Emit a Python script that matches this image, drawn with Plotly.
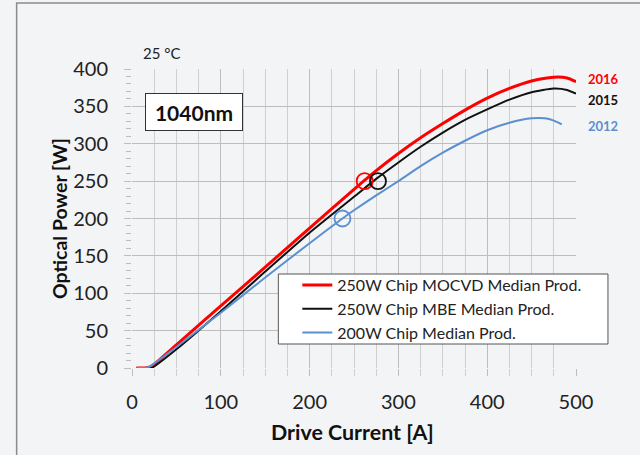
import plotly.graph_objects as go

# ---- data ----
current_mocvd = [5, 15, 20, 25, 50, 100, 150, 200, 250, 275, 300, 325, 350, 375, 400, 425, 450, 475, 490, 500]
power_mocvd   = [0, 0, 1, 5, 31, 83, 135, 187, 239, 264, 287, 308, 327, 345, 361, 374, 384, 389, 388, 383]

current_mbe = [5, 15, 22, 25, 50, 100, 150, 200, 250, 275, 300, 325, 350, 375, 400, 425, 450, 475, 490, 500]
power_mbe   = [0, 0, 0, 2, 25, 76, 129, 181, 229, 253, 275, 296, 315, 332, 346, 359, 369, 374, 372, 367]

current_200w = [5, 15, 20, 25, 50, 100, 150, 200, 237, 250, 275, 300, 325, 350, 375, 400, 425, 450, 465, 475, 484]
power_200w   = [0, 0, 2, 6, 28, 74, 121, 167, 200, 211, 231, 250, 270, 288, 304, 318, 328, 334, 334, 331, 326]

series_names = ["250W Chip MOCVD Median Prod.", "250W Chip MBE Median Prod.", "200W Chip Median Prod."]
series_colors = ["#ff0000", "#111111", "#5b8fd0"]
series_widths = [3, 2, 2]

marker_x = [262, 277, 237]
marker_y = [250, 250, 200]

year_labels = ["2016", "2015", "2012"]
year_label_y = [386, 358, 324]

x_ticks = [0, 100, 200, 300, 400, 500]
y_ticks = [0, 50, 100, 150, 200, 250, 300, 350, 400]

FONT = "Lato"

fig = go.Figure()
for xs, ys, name, col, w in zip([current_mocvd, current_mbe, current_200w],
                                [power_mocvd, power_mbe, power_200w],
                                series_names, series_colors, series_widths):
    fig.add_trace(go.Scatter(x=xs, y=ys, mode="lines", name=name,
                             line=dict(color=col, width=w, shape="spline", smoothing=0.6)))

for mx, my, col in zip(marker_x, marker_y, series_colors):
    fig.add_trace(go.Scatter(x=[mx], y=[my], mode="markers", showlegend=False,
                             marker=dict(symbol="circle-open", size=16, color=col,
                                         line=dict(width=1.8, color=col))))

W, H = 640, 455
L, R, T, B = 131.5, 64, 69, 87
pw, ph = W - L - R, H - T - B

def px_to_paper_x(px):
    return (px - L) / pw

def px_to_paper_y(py):
    return (H - B - py) / ph

annotations = []
for lab, yy, col in zip(year_labels, year_label_y, series_colors):
    annotations.append(dict(text="<b>%s</b>" % lab, x=1.022, xref="paper", y=yy, yref="y",
                            xanchor="left", yanchor="middle", showarrow=False,
                            font=dict(family=FONT, size=13, color=col)))

annotations += [
    dict(text="25 °C", x=px_to_paper_x(140.7), y=px_to_paper_y(52.7), xref="paper", yref="paper",
         xanchor="left", yanchor="middle",
         showarrow=False, font=dict(family=FONT, size=15, color="#222222")),
    dict(text="<b>1040nm</b>", x=69.4, y=342, xref="x", yref="y", xanchor="center", yanchor="middle",
         showarrow=False, font=dict(family=FONT, size=21, color="#111111"),
         width=92, height=32, borderpad=2, bordercolor="#333333", borderwidth=1, bgcolor="white"),
    dict(text="<b>Optical Power [W]</b>", x=px_to_paper_x(59), y=0.5, xref="paper", yref="paper",
         textangle=-90, xanchor="center", yanchor="middle", showarrow=False,
         font=dict(family=FONT, size=19.5, color="#111111")),
    dict(text="<b>Drive Current [A]</b>", x=0.497, y=px_to_paper_y(432), xref="paper", yref="paper",
         xanchor="center", yanchor="middle", showarrow=False,
         font=dict(family=FONT, size=21.4, color="#111111")),
]

shapes = [
    # slide frame
    dict(type="rect", xref="paper", yref="paper",
         x0=px_to_paper_x(16), x1=px_to_paper_x(660), y0=px_to_paper_y(470), y1=px_to_paper_y(3),
         line=dict(color="#8a8a8a", width=1.5), fillcolor="rgba(0,0,0,0)", layer="below"),
    # legend box
    dict(type="rect", xref="paper", yref="paper",
         x0=px_to_paper_x(278), x1=px_to_paper_x(608), y0=px_to_paper_y(344), y1=px_to_paper_y(274),
         line=dict(color="#555555", width=1), fillcolor="white", layer="above"),
]

fig.update_layout(
    width=W, height=H,
    margin=dict(l=L, r=R, t=T, b=B, pad=0),
    paper_bgcolor="#f3f4f6", plot_bgcolor="#f3f4f6",
    font=dict(family=FONT, color="#222222"),
    showlegend=True,
    legend=dict(x=px_to_paper_x(297), y=px_to_paper_y(268), xanchor="left", yanchor="top",
                bgcolor="rgba(0,0,0,0)", borderwidth=0,
                font=dict(family=FONT, size=16, color="#222222")),
    annotations=annotations,
    shapes=shapes,
)

fig.update_xaxes(range=[0, 500], tickvals=x_ticks, showgrid=True, gridcolor="#bdbdbd", gridwidth=1,
                 zeroline=False, showline=False, ticks="outside", ticklen=7, tickcolor="#bdbdbd",
                 tickfont=dict(family=FONT, size=20, color="#222222"), ticklabelstandoff=9,
                 minor=dict(dtick=25, showgrid=True, gridcolor="#cfcfcf", gridwidth=1,
                            ticks="outside", ticklen=7, tickcolor="#cfcfcf"))
fig.update_yaxes(range=[0, 400], tickvals=y_ticks, showgrid=True, gridcolor="#bdbdbd", gridwidth=1,
                 zeroline=False, showline=False, ticks="outside", ticklen=7, tickcolor="#bdbdbd",
                 tickfont=dict(family=FONT, size=20, color="#222222"), ticklabelstandoff=12,
                 minor=dict(dtick=10, showgrid=False, ticks="outside", ticklen=5, tickcolor="#bdbdbd"))

fig.write_html("out.html", config={"displayModeBar": False},
               post_script="document.body.style.margin='0';")
